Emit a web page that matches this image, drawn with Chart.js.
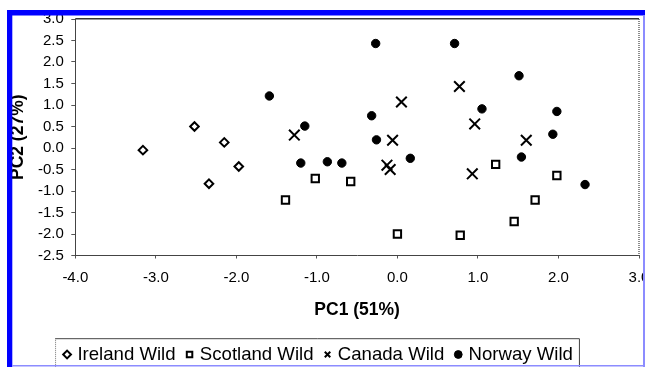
<!DOCTYPE html>
<html><head><meta charset="utf-8">
<script src="https://cdn.jsdelivr.net/npm/chart.js@4/dist/chart.umd.min.js"></script>
<style>
html,body{margin:0;padding:0;background:#fff;}
#wrap{position:relative;width:645px;height:367px;overflow:hidden;background:#fff;}
canvas{position:absolute;left:0;top:0;}
</style></head><body>
<div id="wrap"><canvas id="c" width="660" height="380" style="width:660px;height:380px"></canvas></div>
<script>
// ---- data ----
const seriesNames = ['Ireland Wild', 'Scotland Wild', 'Canada Wild', 'Norway Wild'];

const irelandX = [-3.16, -2.52, -2.15, -1.97, -2.34];
const irelandY = [-0.05, 0.50, 0.13, -0.43, -0.83];

const scotlandX = [-1.39, -1.02, -0.58, 0.00, 0.78, 1.22, 1.45, 1.71, 1.98];
const scotlandY = [-1.21, -0.71, -0.78, -2.00, -2.03, -0.38, -1.71, -1.21, -0.64];

const canadaX = [-1.28, 0.05, 0.77, 0.96, -0.06, 1.60, -0.13, -0.09, 0.93];
const canadaY = [0.30, 1.07, 1.43, 0.56, 0.18, 0.18, -0.40, -0.50, -0.60];

const norwayX = [-1.59, -1.15, -1.20, -0.87, -0.69, -0.27, -0.32, -0.26, 0.71, 1.51, 1.05, 1.98, 1.93, 0.16, 1.54, 2.33];
const norwayY = [1.21, 0.51, -0.35, -0.32, -0.35, 2.43, 0.75, 0.19, 2.43, 1.68, 0.91, 0.85, 0.32, -0.24, -0.21, -0.85];

const xTickValues = [-4, -3, -2, -1, 0, 1, 2, 3];
const yTickValues = [-2.5, -2, -1.5, -1, -0.5, 0, 0.5, 1, 1.5, 2, 2.5, 3];

const xTitle = 'PC1 (51%)';
const yTitle = 'PC2 (27%)';

// ---- chart ----
Chart.defaults.font.family = "'Liberation Sans', Arial, Helvetica, sans-serif";
Chart.defaults.color = '#000';

const pts = (xs, ys) => xs.map((x, i) => ({x: x, y: ys[i]}));

const framePlugin = {
  id: 'frame',
  afterDraw(chart) {
    const ctx = chart.ctx, a = chart.chartArea;
    ctx.save();
    // plot top border
    ctx.strokeStyle = '#333'; ctx.lineWidth = 1.5;
    ctx.beginPath(); ctx.moveTo(a.left, a.top - 0.25); ctx.lineTo(a.right, a.top - 0.25); ctx.stroke();
    // plot right dotted border
    ctx.strokeStyle = '#666'; ctx.lineWidth = 1.5; ctx.setLineDash([1, 1]);
    ctx.beginPath(); ctx.moveTo(a.right, a.top); ctx.lineTo(a.right, a.bottom); ctx.stroke();
    ctx.setLineDash([]);
    // legend box
    const hb = chart.legend.legendHitBoxes;
    if (hb && hb.length) {
      const f = hb[0], l = hb[hb.length - 1];
      const L = f.left - 11, R = l.left + l.width + 6, T = f.top - 7, B = T + 40;
      ctx.strokeStyle = '#444'; ctx.lineWidth = 1;
      ctx.beginPath(); ctx.moveTo(L, T + 0.5); ctx.lineTo(R + 0.5, T + 0.5); ctx.lineTo(R + 0.5, B); ctx.stroke();
      ctx.strokeStyle = '#777'; ctx.setLineDash([1, 1]);
      ctx.beginPath(); ctx.moveTo(L + 0.5, T); ctx.lineTo(L + 0.5, B); ctx.stroke();
      ctx.setLineDash([]);
    }
    // outer figure frame
    ctx.fillStyle = '#0000ff';
    ctx.fillRect(7, 10, 660, 5.5);
    ctx.fillRect(7, 10, 5.3, 380);
    ctx.fillStyle = '#8c8cff';
    ctx.fillRect(643, 15.5, 2, 370);
    ctx.fillRect(12.3, 365, 640, 1.5);
    ctx.restore();
  }
};

new Chart(document.getElementById('c'), {
  type: 'scatter',
  data: {
    datasets: [
      { label: seriesNames[0], data: pts(irelandX, irelandY), pointStyle: 'rectRot', pointRadius: 4.3, pointHoverRadius: 4.3,
        backgroundColor: '#fff', borderColor: '#000', borderWidth: 2 },
      { label: seriesNames[1], data: pts(scotlandX, scotlandY), pointStyle: 'rect', pointRadius: 5.2, pointHoverRadius: 5.2,
        backgroundColor: '#fff', borderColor: '#000', borderWidth: 2 },
      { label: seriesNames[2], data: pts(canadaX, canadaY), pointStyle: 'crossRot', pointRadius: 7.5, pointHoverRadius: 7.5,
        backgroundColor: '#000', borderColor: '#000', borderWidth: 2 },
      { label: seriesNames[3], data: pts(norwayX, norwayY), pointStyle: 'circle', pointRadius: 4.2, pointHoverRadius: 4.2,
        backgroundColor: '#000', borderColor: '#000', borderWidth: 1 }
    ]
  },
  options: {
    responsive: false,
    animation: false,
    devicePixelRatio: 1,
    layout: { padding: { left: 0, top: 19, right: 21, bottom: 6.2 } },
    plugins: {
      tooltip: { enabled: false },
      legend: {
        position: 'bottom',
        labels: { usePointStyle: true, boxWidth: 2, boxHeight: 5.5, padding: 13, color: '#000', font: { size: 18.6 } }
      }
    },
    scales: {
      x: {
        type: 'linear', min: -4, max: 3,
        afterBuildTicks: s => { s.ticks = xTickValues.map(v => ({ value: v })); },
        afterFit: s => { s.height = 76.7; },
        ticks: { callback: v => Number(v).toFixed(1), color: '#000', font: { size: 15 }, padding: 10, maxRotation: 0, autoSkip: false },
        grid: { drawOnChartArea: false, drawTicks: true, tickLength: 3, color: '#555' },
        border: { color: '#444', width: 1 },
        title: { display: true, text: xTitle, color: '#000', font: { size: 17.5, weight: 'bold' }, padding: { top: 0, bottom: 11.7 } }
      },
      y: {
        type: 'linear', min: -2.5, max: 3,
        afterBuildTicks: s => { s.ticks = yTickValues.map(v => ({ value: v })); },
        afterFit: s => { s.width = 75.3; },
        ticks: { callback: v => Number(v).toFixed(1), color: '#000', font: { size: 15 }, padding: 7.5, autoSkip: false },
        grid: { drawOnChartArea: false, drawTicks: true, tickLength: 4, color: '#555' },
        border: { color: '#444', width: 1 },
        title: { display: true, text: yTitle, color: '#000', font: { size: 17.5, weight: 'bold' }, padding: { top: 7.5, bottom: 0 } }
      }
    }
  },
  plugins: [framePlugin]
});
</script>
</body></html>
